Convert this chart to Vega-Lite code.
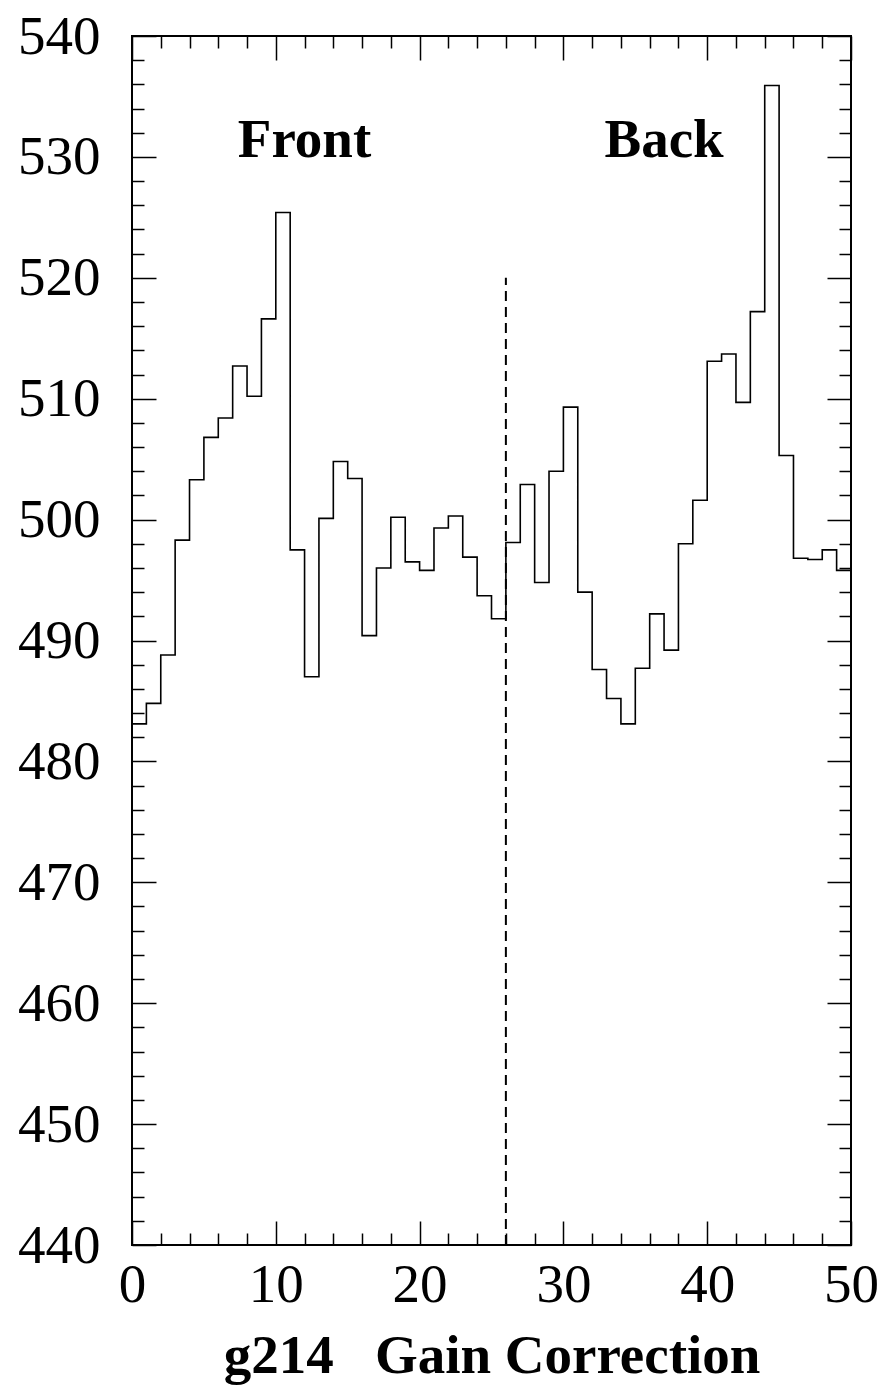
{
  "$schema": "https://vega.github.io/schema/vega-lite/v6.json",
  "width": 719,
  "height": 1209,
  "autosize": {"type": "none"},
  "padding": {"left": 132, "top": 36, "right": 33, "bottom": 140},
  "background": "white",
  "config": {
    "view": {"stroke": "black", "strokeWidth": 2},
    "font": "Liberation Serif",
    "axis": {
      "domain": false,
      "grid": false,
      "tickColor": "black",
      "tickWidth": 1.5,
      "labelFont": "Liberation Serif",
      "labelFontSize": 55,
      "labelColor": "black",
      "labelOverlap": false,
      "labelFlush": false,
      "labelBound": false
    }
  },
  "datasets": {
    "hist": [
      {"lo": 0, "hi": 1, "v": 483.1},
      {"lo": 1, "hi": 2, "v": 484.8},
      {"lo": 2, "hi": 3, "v": 488.8},
      {"lo": 3, "hi": 4, "v": 498.3},
      {"lo": 4, "hi": 5, "v": 503.3},
      {"lo": 5, "hi": 6, "v": 506.8},
      {"lo": 6, "hi": 7, "v": 508.4},
      {"lo": 7, "hi": 8, "v": 512.7},
      {"lo": 8, "hi": 9, "v": 510.2},
      {"lo": 9, "hi": 10, "v": 516.6},
      {"lo": 10, "hi": 11, "v": 525.4},
      {"lo": 11, "hi": 12, "v": 497.5},
      {"lo": 12, "hi": 13, "v": 487.0},
      {"lo": 13, "hi": 14, "v": 500.1},
      {"lo": 14, "hi": 15, "v": 504.8},
      {"lo": 15, "hi": 16, "v": 503.4},
      {"lo": 16, "hi": 17, "v": 490.4},
      {"lo": 17, "hi": 18, "v": 496.0},
      {"lo": 18, "hi": 19, "v": 500.2},
      {"lo": 19, "hi": 20, "v": 496.5},
      {"lo": 20, "hi": 21, "v": 495.8},
      {"lo": 21, "hi": 22, "v": 499.3},
      {"lo": 22, "hi": 23, "v": 500.3},
      {"lo": 23, "hi": 24, "v": 496.9},
      {"lo": 24, "hi": 25, "v": 493.7},
      {"lo": 25, "hi": 26, "v": 491.8},
      {"lo": 26, "hi": 27, "v": 498.1},
      {"lo": 27, "hi": 28, "v": 502.9},
      {"lo": 28, "hi": 29, "v": 494.8},
      {"lo": 29, "hi": 30, "v": 504.0},
      {"lo": 30, "hi": 31, "v": 509.3},
      {"lo": 31, "hi": 32, "v": 494.0},
      {"lo": 32, "hi": 33, "v": 487.6},
      {"lo": 33, "hi": 34, "v": 485.2},
      {"lo": 34, "hi": 35, "v": 483.1},
      {"lo": 35, "hi": 36, "v": 487.7},
      {"lo": 36, "hi": 37, "v": 492.2},
      {"lo": 37, "hi": 38, "v": 489.2},
      {"lo": 38, "hi": 39, "v": 498.0},
      {"lo": 39, "hi": 40, "v": 501.6},
      {"lo": 40, "hi": 41, "v": 513.1},
      {"lo": 41, "hi": 42, "v": 513.7},
      {"lo": 42, "hi": 43, "v": 509.7},
      {"lo": 43, "hi": 44, "v": 517.2},
      {"lo": 44, "hi": 45, "v": 535.9},
      {"lo": 45, "hi": 46, "v": 505.3},
      {"lo": 46, "hi": 47, "v": 496.8},
      {"lo": 47, "hi": 48, "v": 496.7},
      {"lo": 48, "hi": 49, "v": 497.5},
      {"lo": 49, "hi": 50, "v": 495.8}
    ],
    "divider": [
      {"x": 26, "ylo": 440, "yhi": 520}
    ],
    "labels": [
      {"x": 12.0, "y": 530, "label": "Front"},
      {"x": 37.0, "y": 530, "label": "Back"}
    ]
  },
  "layer": [
    {
      "data": {"name": "hist"},
      "transform": [{"fold": ["lo", "hi"], "as": ["edge", "xpos"]}],
      "mark": {"type": "line", "color": "black", "strokeWidth": 1.6},
      "encoding": {
        "x": {
          "field": "xpos",
          "type": "quantitative",
          "scale": {"domain": [0, 50], "nice": false, "zero": false},
          "axis": {
            "orient": "bottom",
            "values": [0,2,4,6,8,10,12,14,16,18,20,22,24,26,28,30,32,34,36,38,40,42,44,46,48,50],
            "tickSize": {"condition": {"test": "datum.value % 10 === 0", "value": -24}, "value": -12},
            "labelExpr": "datum.value % 10 === 0 ? datum.label : ''",
            "labelPadding": 37,
            "title": "g214\u00a0\u00a0\u00a0Gain Correction",
            "titleFont": "Liberation Serif",
            "titleFontSize": 55,
            "titleFontWeight": "bold",
            "titleColor": "black",
            "titleX": 359.5,
            "titleY": 127,
            "titleAlign": "center",
            "titleBaseline": "alphabetic"
          }
        },
        "y": {
          "field": "v",
          "type": "quantitative",
          "scale": {"domain": [440, 540], "nice": false, "zero": false},
          "axis": {
            "orient": "left",
            "values": [440,442,444,446,448,450,452,454,456,458,460,462,464,466,468,470,472,474,476,478,480,482,484,486,488,490,492,494,496,498,500,502,504,506,508,510,512,514,516,518,520,522,524,526,528,530,532,534,536,538,540],
            "tickSize": {"condition": {"test": "datum.value % 10 === 0", "value": -24}, "value": -12},
            "labelExpr": "datum.value % 10 === 0 ? datum.label : ''",
            "labelPadding": 56,
            "title": null
          }
        },
        "order": [{"field": "lo", "type": "quantitative"}, {"field": "xpos", "type": "quantitative"}]
      }
    },
    {
      "data": {"name": "divider"},
      "mark": {"type": "rule", "color": "black", "strokeWidth": 2, "strokeDash": [10, 6]},
      "encoding": {
        "x": {
          "field": "x",
          "type": "quantitative",
          "axis": {
            "orient": "top",
            "values": [0,2,4,6,8,10,12,14,16,18,20,22,24,26,28,30,32,34,36,38,40,42,44,46,48,50],
            "tickSize": {"condition": {"test": "datum.value % 10 === 0", "value": -24}, "value": -12},
            "labels": false,
            "title": null
          }
        },
        "y": {
          "field": "ylo",
          "type": "quantitative",
          "axis": {
            "orient": "right",
            "values": [440,442,444,446,448,450,452,454,456,458,460,462,464,466,468,470,472,474,476,478,480,482,484,486,488,490,492,494,496,498,500,502,504,506,508,510,512,514,516,518,520,522,524,526,528,530,532,534,536,538,540],
            "tickSize": {"condition": {"test": "datum.value % 10 === 0", "value": -24}, "value": -12},
            "labels": false,
            "title": null
          }
        },
        "y2": {"field": "yhi"}
      }
    },
    {
      "data": {"name": "labels"},
      "mark": {"type": "text", "font": "Liberation Serif", "fontSize": 55, "fontWeight": "bold", "color": "black", "align": "center", "baseline": "alphabetic"},
      "encoding": {
        "x": {"field": "x", "type": "quantitative", "axis": null},
        "y": {"field": "y", "type": "quantitative", "axis": null},
        "text": {"field": "label"}
      }
    }
  ],
  "resolve": {"axis": {"x": "independent", "y": "independent"}}
}
